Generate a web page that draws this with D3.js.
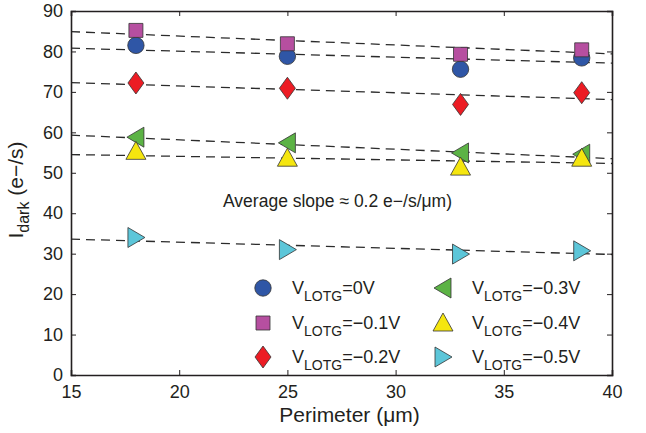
<!DOCTYPE html>
<html>
<head>
<meta charset="utf-8">
<script src="https://cdn.jsdelivr.net/npm/d3@7"></script>
<style>
body { margin: 0; background: #fff; }
text { font-family: "Liberation Sans", Arial, sans-serif; fill: #231f20; }
</style>
</head>
<body>
<div id="chart"></div>
<script>
// perimeter values (um) for the four pixel designs
var perimeter = [18, 25, 33, 38.6];

var seriesNames = ["=0V", "=\u22120.1V", "=\u22120.2V", "=\u22120.3V", "=\u22120.4V", "=\u22120.5V"];
var seriesShapes = ["circle", "square", "diamond", "left", "up", "right"];
var seriesColors = ["#2f56a6", "#b64fa0", "#ec1c24", "#5cb345", "#f5e60f", "#5cc6d9"];

// dark current (e-/s)
var idark0 = [81.5, 78.8, 75.6, 78.4];
var idark1 = [85.2, 81.9, 79.3, 80.4];
var idark2 = [72.2, 70.9, 66.9, 69.8];
var idark3 = [58.8, 57.4, 54.9, 54.6];
var idark4 = [55.3, 53.6, 51.4, 53.6];
var idark5 = [34.0, 31.0, 29.9, 30.7];

// dashed fit lines, value at x=15 and x=40
var fitX = [15, 40];
var fitStart = [80.8, 84.9, 72.3, 59.3, 54.5, 33.6];
var fitEnd = [77.1, 79.4, 68.1, 53.5, 52.3, 29.8];

var xTicks = [15, 20, 25, 30, 35, 40];
var yTicks = [0, 10, 20, 30, 40, 50, 60, 70, 80, 90];

var allSeries = [idark0, idark1, idark2, idark3, idark4, idark5];

var W = 646, H = 433;
var margin = {top: 11, right: 34, bottom: 58, left: 71};
var width = W - margin.left - margin.right;
var height = H - margin.top - margin.bottom;

var svg = d3.select("#chart").append("svg")
    .attr("width", W).attr("height", H);
var g = svg.append("g")
    .attr("transform", "translate(" + margin.left + "," + margin.top + ")");

var x = d3.scaleLinear().domain([15, 40]).range([0, width]);
var y = d3.scaleLinear().domain([0, 90]).range([height, 0]);

// marker paths centred on 0,0
function marker(shape) {
    if (shape == "circle") return d3.symbol().type(d3.symbolCircle).size(Math.PI * 8.2 * 8.2)();
    if (shape == "square") return "M-7,-7H7V7H-7Z";
    if (shape == "diamond") return "M0,-11L8,0L0,11L-8,0Z";
    if (shape == "left") return "M-9,0L8,-10L8,10Z";
    if (shape == "right") return "M9,0L-8,-10L-8,10Z";
    if (shape == "up") return "M0,-10L10,8L-10,8Z";
}

// fit lines
g.append("clipPath").attr("id", "clip").append("rect")
    .attr("width", width).attr("height", height);
var fits = g.append("g").attr("clip-path", "url(#clip)");
fitStart.forEach(function (v, i) {
    fits.append("line")
        .attr("x1", x(fitX[0])).attr("y1", y(v))
        .attr("x2", x(fitX[1])).attr("y2", y(fitEnd[i]))
        .attr("stroke", "#2b2b2b")
        .attr("stroke-width", 1.3)
        .attr("stroke-dasharray", "9,6");
});

// data markers
allSeries.forEach(function (vals, i) {
    g.append("g").selectAll("path")
        .data(vals)
        .enter().append("path")
        .attr("transform", function (d, j) { return "translate(" + x(perimeter[j]) + "," + y(d) + ")"; })
        .attr("d", marker(seriesShapes[i]))
        .attr("fill", seriesColors[i])
        .attr("stroke", "#333")
        .attr("stroke-width", 0.8);
});

// axes (ticks inward, mirrored on top/right)
var axisCol = "#231f20";
var bottomAxis = g.append("g").attr("transform", "translate(0," + height + ")")
    .call(d3.axisBottom(x).tickValues(xTicks).tickSize(-5).tickPadding(10));
var leftAxis = g.append("g")
    .call(d3.axisLeft(y).tickValues(yTicks).tickSize(-5).tickPadding(8));
var topAxis = g.append("g")
    .call(d3.axisTop(x).tickValues(xTicks).tickSize(-5).tickFormat(""));
var rightAxis = g.append("g").attr("transform", "translate(" + width + ",0)")
    .call(d3.axisRight(y).tickValues(yTicks).tickSize(-5).tickFormat(""));

[bottomAxis, leftAxis, topAxis, rightAxis].forEach(function (a) {
    a.select(".domain").attr("stroke", axisCol).attr("stroke-width", 1.6);
    a.selectAll(".tick line").attr("stroke", axisCol).attr("stroke-width", 1);
    a.selectAll("text").style("font-size", "18px")
        .style("font-family", "Liberation Sans, Arial, sans-serif").attr("fill", axisCol);
});

// axis titles
g.append("text")
    .attr("x", width / 2 + 8).attr("y", height + 47)
    .attr("text-anchor", "middle")
    .style("font-size", "21px")
    .text("Perimeter (\u03bcm)");

var yt = svg.append("text")
    .attr("transform", "translate(23," + (margin.top + height / 2 - 3) + ") rotate(-90)")
    .attr("text-anchor", "middle")
    .style("font-size", "21px");
yt.append("tspan").text("I");
yt.append("tspan").attr("dy", 6).style("font-size", "16px").text("dark");
yt.append("tspan").attr("dy", -6).text(" (e\u2212/s)");

// annotation
g.append("text")
    .attr("x", 152).attr("y", 196)
    .style("font-size", "17.5px")
    .text("Average slope \u2248 0.2 e\u2212/s/\u03bcm)");

// legend
var legX = [192, 372];
var legY = [277, 312, 346];
allSeries.forEach(function (vals, i) {
    var col = Math.floor(i / 3), row = i % 3;
    var lg = g.append("g")
        .attr("transform", "translate(" + legX[col] + "," + legY[row] + ")");
    lg.append("path")
        .attr("d", marker(seriesShapes[i]))
        .attr("fill", seriesColors[i])
        .attr("stroke", "#333")
        .attr("stroke-width", 0.8);
    var t = lg.append("text")
        .attr("x", 29).attr("y", 6)
        .style("font-size", "18px");
    t.append("tspan").text("V");
    t.append("tspan").attr("dy", 7).style("font-size", "14px").text("LOTG");
    t.append("tspan").attr("dy", -7).text(seriesNames[i]);
});
</script>
</body>
</html>
